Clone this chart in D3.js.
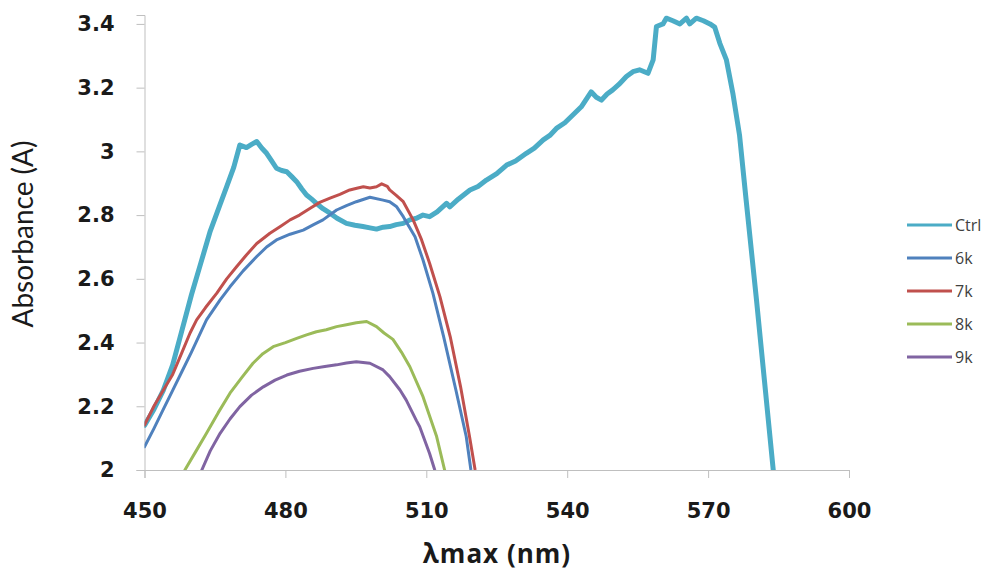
<!DOCTYPE html>
<html>
<head>
<meta charset="utf-8">
<script src="https://cdn.jsdelivr.net/npm/d3@7"></script>
<style>
  body { margin: 0; background: #fff; }
</style>
</head>
<body>
<div id="chart-container"></div>
<script>
// series names and colours
const seriesNames = ["Ctrl", "6k", "7k", "8k", "9k"];
const seriesColors = ["#4BACC6", "#4F81BD", "#C0504D", "#9BBB59", "#8064A2"];

// axis ticks
const xTicks = [450, 480, 510, 540, 570, 600];
const yTicks = [2, 2.2, 2.4, 2.6, 2.8, 3, 3.2, 3.4];

// Ctrl
const ctrlNm = [450, 452, 454, 456, 458, 460, 462, 464, 466, 467.5, 469, 470.3, 471.7, 472.8, 473.9, 475, 476,
  477, 478.1, 479.2, 480.3, 481.4, 482.4, 483.5, 484.5, 485.6, 486.6, 488, 489.5, 491, 493, 494.8,
  496.5, 498, 499.4, 500.8, 502.2, 503.6, 505.1, 506.5, 507.9, 509.3, 510.7, 512.3, 514.3, 515,
  516.8, 519.3, 521, 522.8, 525, 527.1, 529, 531.3, 533, 534.9, 536.3, 537.7, 539.5, 541.2, 543,
  545.1, 546.2, 547.3, 548.5, 549.7, 551, 552.6, 554, 555.4, 557.2, 558.3, 559, 560.4, 561.1, 562.5,
  564, 565.4, 566.1, 567.5, 569, 570.4, 571.4, 572.5, 573.9, 575.3, 576.7, 578.1, 580.3, 582, 583.8, 584.6];
const ctrlAbs = [2.14, 2.19, 2.25, 2.33, 2.44, 2.55, 2.65, 2.75, 2.83, 2.889, 2.95, 3.02, 3.012, 3.022, 3.031, 3.01, 2.994,
  2.972, 2.947, 2.94, 2.936, 2.92, 2.905, 2.882, 2.863, 2.85, 2.837, 2.82, 2.806, 2.79, 2.774, 2.768,
  2.764, 2.76, 2.756, 2.762, 2.764, 2.77, 2.774, 2.785, 2.79, 2.8, 2.795, 2.81, 2.837, 2.826,
  2.85, 2.879, 2.89, 2.91, 2.93, 2.957, 2.97, 2.994, 3.01, 3.036, 3.05, 3.072, 3.09, 3.114, 3.14,
  3.187, 3.17, 3.161, 3.18, 3.193, 3.21, 3.235, 3.25, 3.256, 3.245, 3.287, 3.392, 3.4, 3.418, 3.41,
  3.4, 3.418, 3.4, 3.418, 3.41, 3.4, 3.39, 3.339, 3.287, 3.18, 3.05, 2.847, 2.534, 2.28, 2.01, 1.9];

// 6k
const k6Nm = [450, 452, 454, 456, 458, 460, 463.2, 466.1, 468.2, 471, 473.9, 476, 478.1, 481, 483.8, 486, 488,
  490.9, 493, 495.1, 498, 500.8, 502.2, 503.7, 505.1, 507.6, 509.3, 511.4, 513.7, 516.3, 518.5, 519.5, 520];
const k6Abs = [2.073, 2.13, 2.19, 2.25, 2.31, 2.37, 2.471, 2.534, 2.575, 2.625, 2.67, 2.7, 2.722, 2.74, 2.753, 2.77, 2.785,
  2.816, 2.83, 2.842, 2.856, 2.847, 2.842, 2.826, 2.795, 2.732, 2.659, 2.555, 2.418, 2.251, 2.105, 2.0, 1.96];

// 7k
const k7Nm = [450, 452, 454, 456, 458, 459.7, 461.1, 463, 465.4, 467.5, 469.6, 471.7, 473.9, 476.7, 479, 481, 483,
  485.2, 487.3, 489.5, 491.6, 493.7, 495.2, 496.6, 498, 499.4, 500.5, 501.7, 502.2, 503.6, 505.1, 507.2,
  509, 510.7, 512.9, 515.1, 517.3, 519.2, 520.4, 521];
const k7Abs = [2.141, 2.2, 2.25, 2.3, 2.37, 2.43, 2.471, 2.51, 2.555, 2.6, 2.638, 2.675, 2.711, 2.743, 2.765, 2.785, 2.8,
  2.821, 2.84, 2.853, 2.865, 2.879, 2.884, 2.889, 2.885, 2.889, 2.898, 2.89, 2.879, 2.862, 2.842, 2.785,
  2.722, 2.649, 2.544, 2.418, 2.261, 2.105, 2.0, 1.96];

// 8k
const k8Nm = [458.6, 461, 463.2, 465.7, 468.2, 470.7, 473.1, 475.2, 477.4, 480, 482.4, 484.5, 486.6, 488.7, 490.9,
  493, 495.1, 497.3, 499.4, 501, 502.9, 504.7, 506.5, 509.3, 512.2, 513.9, 514.3];
const k8Abs = [2.0, 2.06, 2.115, 2.18, 2.241, 2.29, 2.335, 2.365, 2.387, 2.4, 2.413, 2.424, 2.434, 2.44, 2.45,
  2.456, 2.462, 2.466, 2.45, 2.43, 2.41, 2.37, 2.324, 2.23, 2.105, 2.0, 1.97];

// 9k
const k9Nm = [462.2, 464, 466.1, 468.2, 470.3, 472.8, 475.3, 477.8, 480.3, 483, 485.9, 488.4, 490.9, 493,
  495.1, 498, 500.8, 502.2, 504.4, 505.7, 507.9, 508.6, 510.7, 511.8, 512.3];
const k9Abs = [2.0, 2.06, 2.115, 2.16, 2.199, 2.235, 2.261, 2.282, 2.298, 2.31, 2.319, 2.325, 2.33, 2.336,
  2.34, 2.335, 2.314, 2.293, 2.251, 2.22, 2.155, 2.136, 2.052, 2.0, 1.98];

const seriesNm = [ctrlNm, k6Nm, k7Nm, k8Nm, k9Nm];
const seriesAbs = [ctrlAbs, k6Abs, k7Abs, k8Abs, k9Abs];

// define canvas
const w = 989;
const h = 571;
const plotLeft = 144.5;
const plotRight = 849;
const plotTop = 15;
const plotBottom = 470;

const svg = d3
  .select("#chart-container")
  .append("svg")
  .attr("width", w)
  .attr("height", h)
  .style("font-family", "'DejaVu Sans', sans-serif");

// scales
const xScale = d3.scaleLinear().domain([450, 600]).range([plotLeft, plotRight]);
const yScale = d3.scaleLinear().domain([2, 3.428]).range([plotBottom, plotTop]);

// clip lines to the plot area
svg
  .append("clipPath")
  .attr("id", "plot-clip")
  .append("rect")
  .attr("x", plotLeft)
  .attr("y", 0)
  .attr("width", plotRight - plotLeft)
  .attr("height", plotBottom);

// y axis
const yAxis = d3
  .axisLeft(yScale)
  .tickValues(yTicks)
  .tickSize(8)
  .tickPadding(22)
  .tickFormat((d) => d3.format("~g")(d));

const gy = svg
  .append("g")
  .attr("id", "y-axis")
  .attr("transform", "translate(" + plotLeft + ",0)")
  .call(yAxis);

// x axis
const xAxis = d3.axisBottom(xScale).tickValues(xTicks).tickSize(8).tickPadding(25);

const gx = svg
  .append("g")
  .attr("id", "x-axis")
  .attr("transform", "translate(0," + plotBottom + ")")
  .call(xAxis);

[gx, gy].forEach((g) => {
  g.select(".domain").attr("stroke", "#bfbfbf");
  g.selectAll(".tick line").attr("stroke", "#bfbfbf");
  g.selectAll(".tick text")
    .attr("fill", "#1a1a1a")
    .style("font-size", "21px")
    .style("font-weight", "bold")
    .style("font-family", "'DejaVu Sans', sans-serif");
});

// lines
const line = d3
  .line()
  .x((d) => xScale(d[0]))
  .y((d) => yScale(d[1]));

const plot = svg.append("g").attr("clip-path", "url(#plot-clip)");

seriesNames.forEach((name, i) => {
  const pts = seriesNm[i].map((nm, j) => [nm, seriesAbs[i][j]]);
  plot
    .append("path")
    .datum(pts)
    .attr("class", "line")
    .attr("fill", "none")
    .attr("stroke", seriesColors[i])
    .attr("stroke-width", i === 0 ? 5 : 3)
    .attr("stroke-linejoin", "round")
    .attr("stroke-linecap", "round")
    .attr("d", line);
});

// legend
const legend = svg.append("g").attr("id", "legend");
seriesNames.forEach((name, i) => {
  const ly = 225 + i * 33;
  legend
    .append("line")
    .attr("x1", 907)
    .attr("x2", 952)
    .attr("y1", ly)
    .attr("y2", ly)
    .attr("stroke", seriesColors[i])
    .attr("stroke-width", 3);
  legend
    .append("text")
    .attr("x", 955)
    .attr("y", ly + 5.5)
    .attr("fill", "#404040")
    .style("font-family", "'Open Sans', sans-serif")
    .style("font-size", "16px")
    .text(name);
});

// axis titles
svg
  .append("text")
  .attr("transform", "translate(33,234) rotate(-90)")
  .attr("text-anchor", "middle")
  .attr("fill", "#1a1a1a")
  .style("font-family", "Lato, sans-serif")
  .style("font-size", "28px")
  .text("Absorbance (A)");

svg
  .append("text")
  .attr("x", 497)
  .attr("y", 563)
  .attr("text-anchor", "middle")
  .attr("fill", "#1a1a1a")
  .style("font-family", "'Open Sans', sans-serif")
  .style("font-size", "26px")
  .style("font-weight", "bold")
  .style("letter-spacing", "1px")
  .text("λmax (nm)");
</script>
</body>
</html>
